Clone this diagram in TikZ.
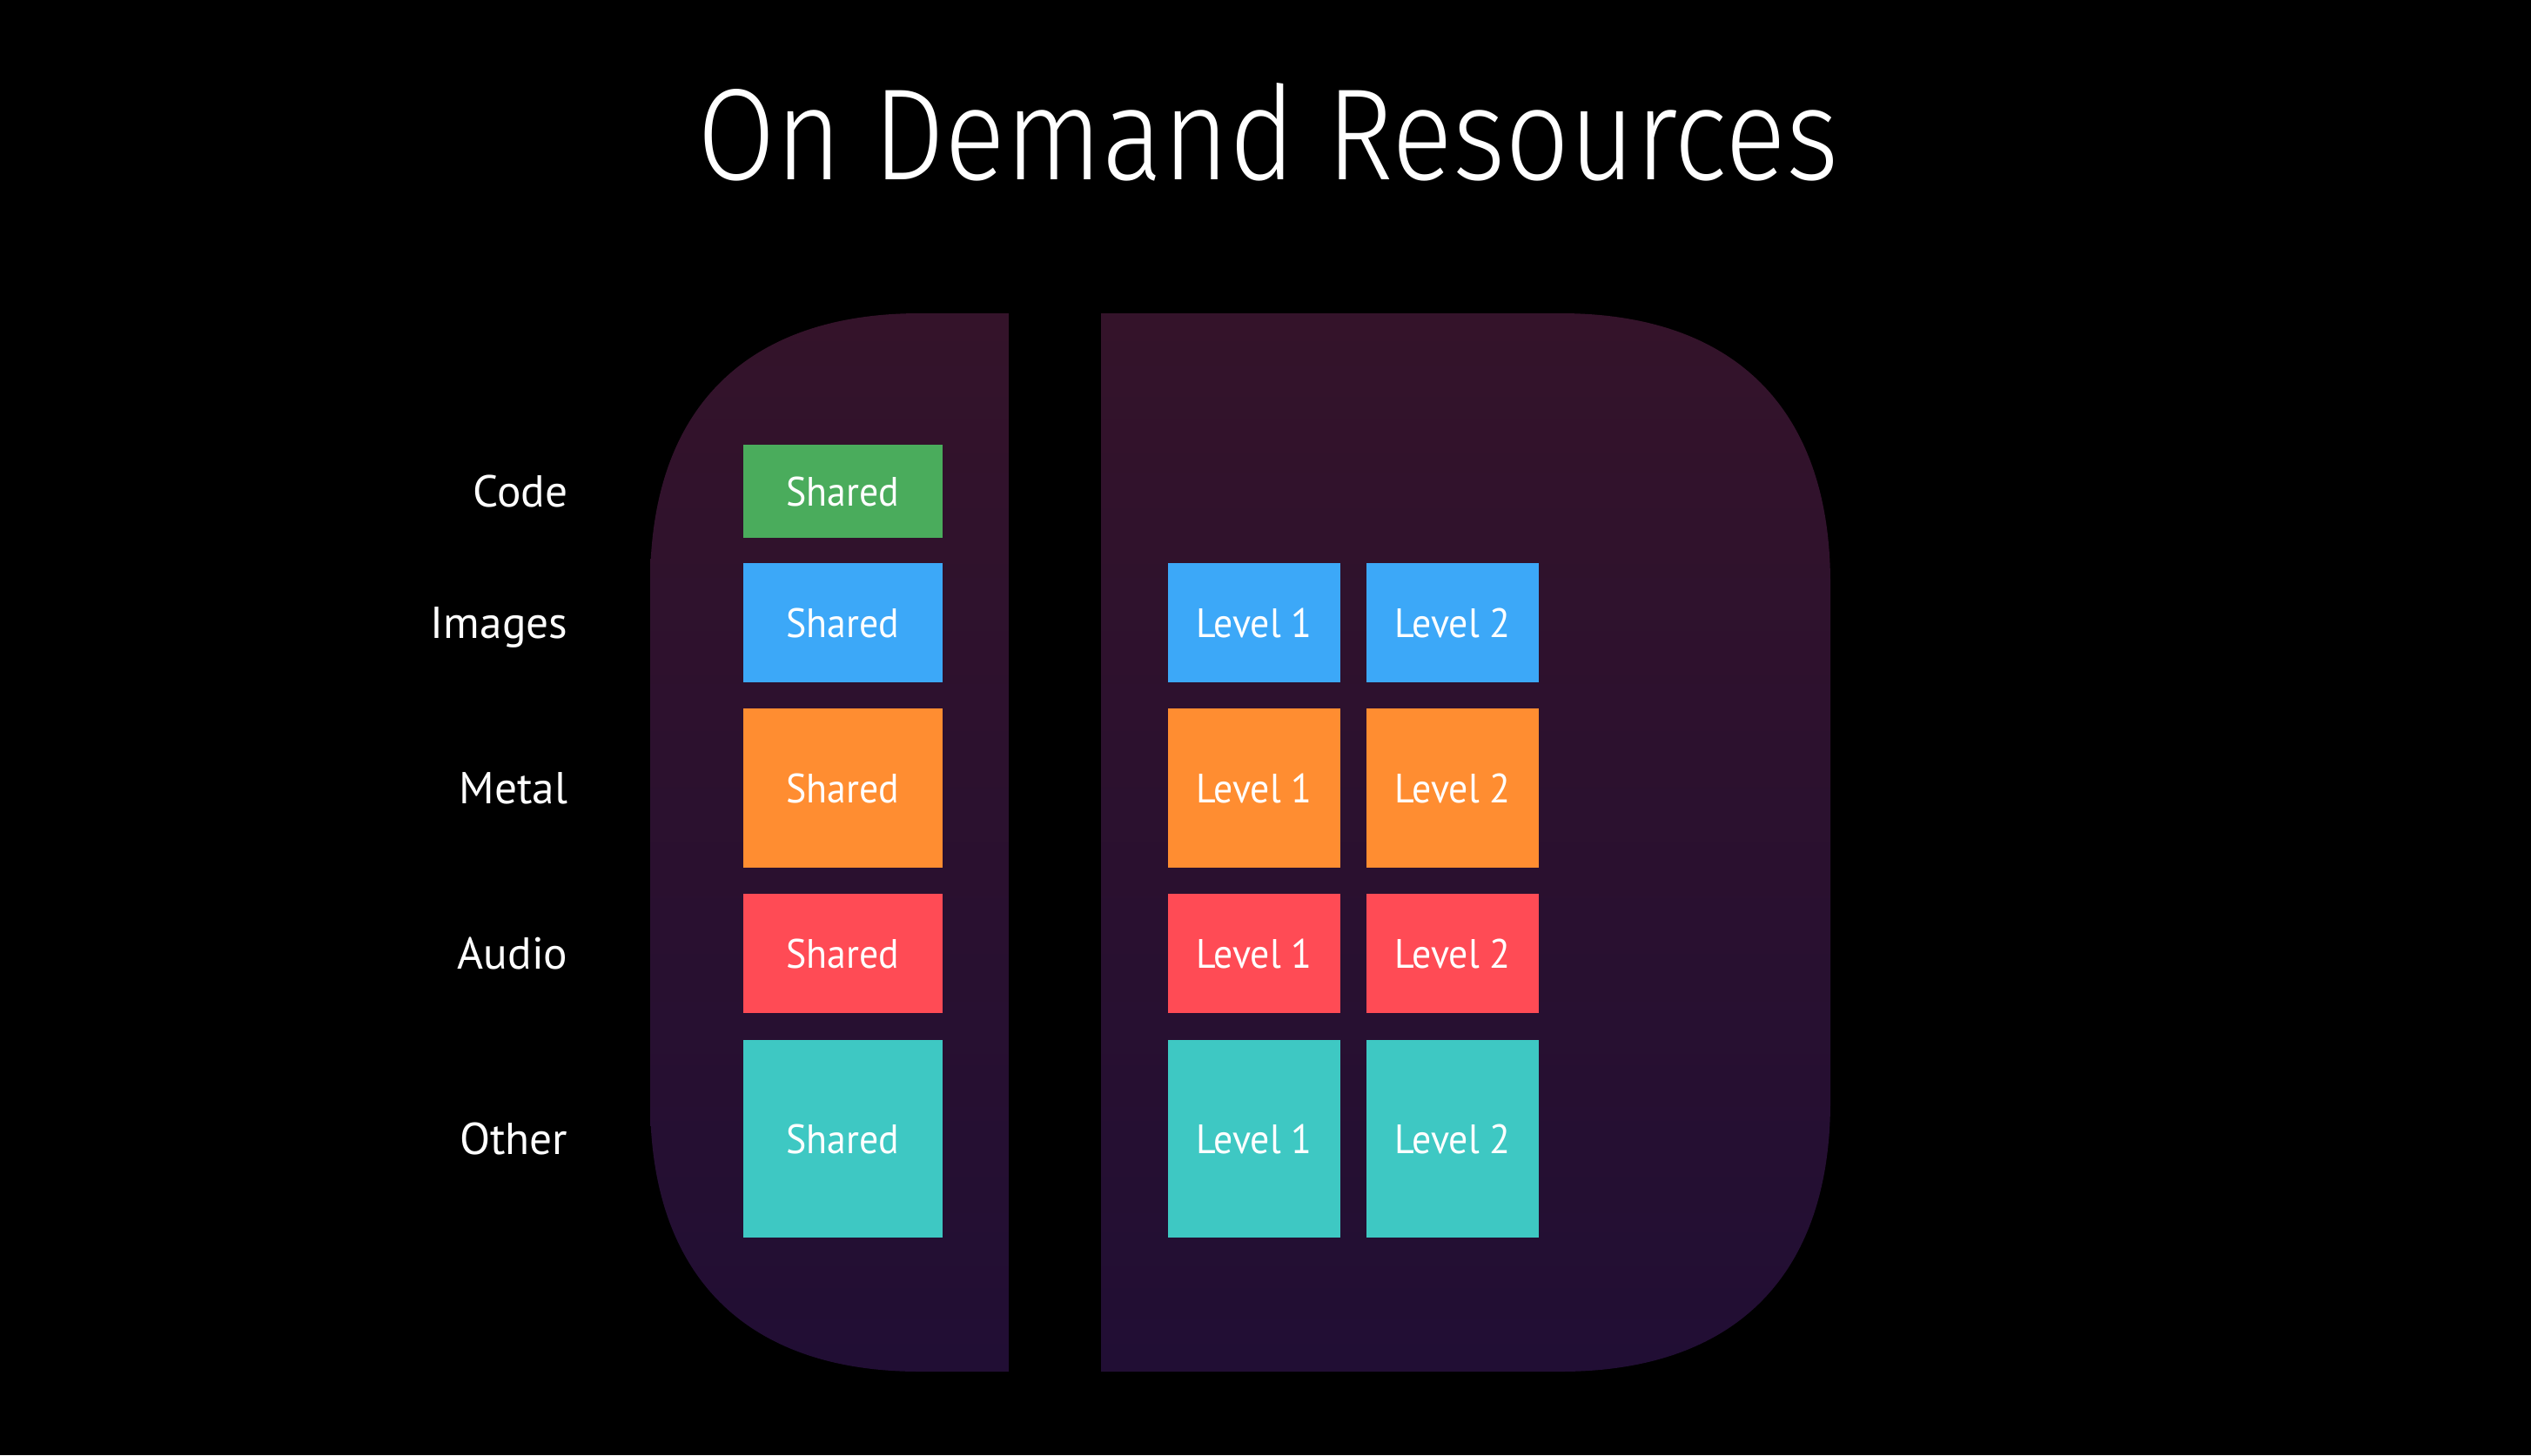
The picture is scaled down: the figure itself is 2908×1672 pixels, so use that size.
\documentclass[tikz,border=0pt]{standalone}
\usepackage{fontspec}
\setmainfont{PT Sans}
\newfontfamily\titlefont[FakeStretch=0.87]{Fira Sans Light}
\newfontfamily\labelfont[FakeStretch=0.93]{PT Sans}
\newfontfamily\rowfont{PT Sans}
\definecolor{panelTop}{RGB}{52,19,42}
\definecolor{panelBot}{RGB}{33,14,52}
\definecolor{cGreen}{RGB}{74,172,92}
\definecolor{cBlue}{RGB}{60,168,248}
\definecolor{cOrange}{RGB}{255,141,49}
\definecolor{cRed}{RGB}{255,75,85}
\definecolor{cTeal}{RGB}{62,200,195}
\tikzset{
  tile/.style={rectangle, inner sep=0pt, outer sep=0pt, text=white,
    font=\labelfont\fontsize{13.4}{16}\selectfont, text height=0.33cm, text depth=0pt},
  rowlabel/.style={inner sep=0pt, anchor=east, text=white,
    font=\rowfont\fontsize{14.6}{17}\selectfont, text height=0.36cm, text depth=0pt},
  sharedw/.style={minimum width=2.29cm},
  levelw/.style={minimum width=1.98cm},
  hCode/.style={minimum height=1.07cm},
  hImg/.style={minimum height=1.37cm},
  hMetal/.style={minimum height=1.83cm},
  hAudio/.style={minimum height=1.37cm},
  hOther/.style={minimum height=2.27cm},
}
\begin{document}
\begin{tikzpicture}[x=0.01cm, y=-0.01cm]
\useasboundingbox (0,0) rectangle (2908,1672);
\fill[black] (0,0) rectangle (2908,1672);
% squircle panel
\def\R{310}\def\C{110}
\shade[top color=panelTop, bottom color=panelBot]
  (747,360+\R) .. controls (747,360+\C) and (747+\C,360) .. (747+\R,360)
  -- (2103-\R,360) .. controls (2103-\C,360) and (2103,360+\C) .. (2103,360+\R)
  -- (2103,1576-\R) .. controls (2103,1576-\C) and (2103-\C,1576) .. (2103-\R,1576)
  -- (747+\R,1576) .. controls (747+\C,1576) and (747,1576-\C) .. (747,1576-\R)
  -- cycle;
\fill[black] (1159,340) rectangle (1265,1600);
% title
\node[text=white, inner sep=0pt, font=\titlefont\fontsize{42.5}{50}\selectfont,
  text height=1.03cm, text depth=0pt] (title) at (1457,154.5) {On Demand Resources};
% row labels
\node[rowlabel] (lCode) at (653,564.5) {Code};
\node[rowlabel] (lImg) at (653,715.5) {Images};
\node[rowlabel] (lMetal) at (653,905.5) {Metal};
\node[rowlabel] (lAudio) at (653,1095.5) {Audio};
\node[rowlabel] (lOther) at (653,1308.5) {Other};
% shared column
\node[tile, sharedw, hCode, fill=cGreen] (sCode) at (968.5,564.5) {Shared};
\node[tile, sharedw, hImg, fill=cBlue] (sImg) at (968.5,715.5) {Shared};
\node[tile, sharedw, hMetal, fill=cOrange] (sMetal) at (968.5,905.5) {Shared};
\node[tile, sharedw, hAudio, fill=cRed] (sAudio) at (968.5,1095.5) {Shared};
\node[tile, sharedw, hOther, fill=cTeal] (sOther) at (968.5,1308.5) {Shared};
% level 1
\node[tile, levelw, hImg, fill=cBlue] (aImg) at (1441,715.5) {Level 1};
\node[tile, levelw, hMetal, fill=cOrange] (aMetal) at (1441,905.5) {Level 1};
\node[tile, levelw, hAudio, fill=cRed] (aAudio) at (1441,1095.5) {Level 1};
\node[tile, levelw, hOther, fill=cTeal] (aOther) at (1441,1308.5) {Level 1};
% level 2
\node[tile, levelw, hImg, fill=cBlue] (bImg) at (1669,715.5) {Level 2};
\node[tile, levelw, hMetal, fill=cOrange] (bMetal) at (1669,905.5) {Level 2};
\node[tile, levelw, hAudio, fill=cRed] (bAudio) at (1669,1095.5) {Level 2};
\node[tile, levelw, hOther, fill=cTeal] (bOther) at (1669,1308.5) {Level 2};
\end{tikzpicture}
\end{document}
